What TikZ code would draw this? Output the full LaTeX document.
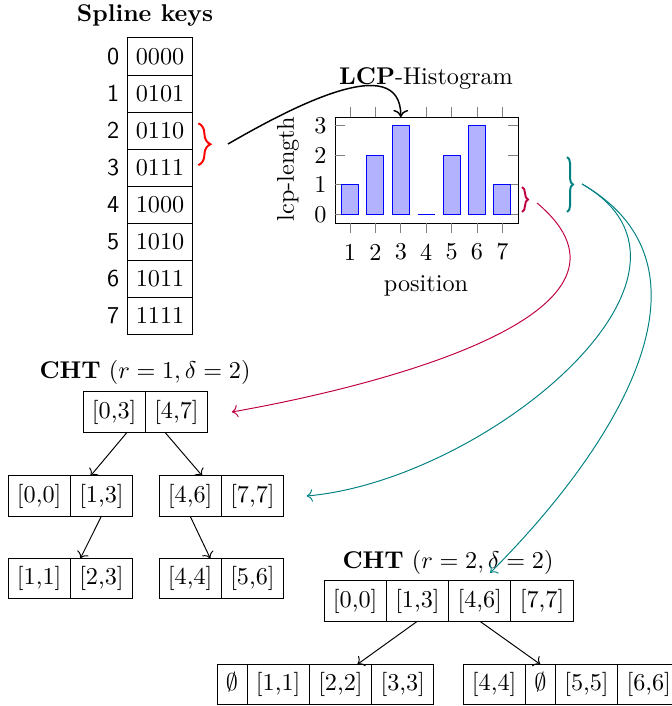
\documentclass[tikz,border=0pt]{standalone}
\usepackage{amsmath}
\usepackage{xcolor}
\usepackage{tikz}
\usetikzlibrary{positioning,arrows.meta,decorations.pathreplacing}

\begin{document}
\begin{tikzpicture}[
  x=0.4132pt, y=-0.4132pt,
  key/.style={draw, rectangle, outer sep=0pt, minimum width=26.7pt, minimum height=15.3pt},
  idx/.style={font=\sffamily},
  cell/.style={draw, rectangle, outer sep=0pt, inner xsep=3.7pt, text height=7.5pt, text depth=2.5pt},
  bar/.style={draw=blue, fill=blue!30},
  axtick/.style={draw=gray},
  brc/.style={decorate, decoration={brace, amplitude=#1}, thick}
]
\useasboundingbox (0,0) rectangle (671,706);

% Spline keys
\node[font=\bfseries] (keytitle) at (145,15) {Spline keys};
\node[key, label={[idx]left:0}] (k0) at (160,56.5) {0000};
\node[key, below=0pt of k0, label={[idx]left:1}] (k1) {0101};
\node[key, below=0pt of k1, label={[idx]left:2}] (k2) {0110};
\node[key, below=0pt of k2, label={[idx]left:3}] (k3) {0111};
\node[key, below=0pt of k3, label={[idx]left:4}] (k4) {1000};
\node[key, below=0pt of k4, label={[idx]left:5}] (k5) {1010};
\node[key, below=0pt of k5, label={[idx]left:6}] (k6) {1011};
\node[key, below=0pt of k6, label={[idx]left:7}] (k7) {1111};
\draw[red, brc=5pt] ([xshift=2.5pt,yshift=3pt]k2.east) -- ([xshift=2.5pt,yshift=1pt]k3.east);
\coordinate (rb) at (228,144);

% LCP histogram
\node (htitle) at (426,79) {\textbf{LCP}-Histogram};
\draw (335,117) rectangle (518,223);
\draw[axtick] (350,106.7) -- (350,117) (375.4,106.7) -- (375.4,117) (400.8,106.7) -- (400.8,117)
  (426.2,106.7) -- (426.2,117) (451.6,106.7) -- (451.6,117) (477,106.7) -- (477,117) (502.4,106.7) -- (502.4,117);
\draw[axtick] (350,223) -- (350,233.3) (375.4,223) -- (375.4,233.3) (400.8,223) -- (400.8,233.3)
  (426.2,223) -- (426.2,233.3) (451.6,223) -- (451.6,233.3) (477,223) -- (477,233.3) (502.4,223) -- (502.4,233.3);
\draw[axtick] (335,214.3) -- (345.3,214.3) (335,184.8) -- (345.3,184.8) (335,155.3) -- (345.3,155.3) (335,125.8) -- (345.3,125.8);
\draw[axtick] (518,214.3) -- (507.7,214.3) (518,184.8) -- (507.7,184.8) (518,155.3) -- (507.7,155.3) (518,125.8) -- (507.7,125.8);
\draw[bar] (341.5,214.3) rectangle (358.5,184.8);
\draw[bar] (366.9,214.3) rectangle (383.9,155.3);
\draw[bar] (392.3,214.3) rectangle (409.3,125.8);
\draw[bar] (417.7,214.3) -- (434.7,214.3);
\draw[bar] (443.1,214.3) rectangle (460.1,155.3);
\draw[bar] (468.5,214.3) rectangle (485.5,125.8);
\draw[bar] (493.9,214.3) rectangle (510.9,184.8);
\node[anchor=east] (y0) at (335,214.3) {0};
\node[anchor=east] (y1) at (335,184.8) {1};
\node[anchor=east] (y2) at (335,155.3) {2};
\node[anchor=east] (y3) at (335,125.8) {3};
\node (x1) at (350,252) {1};
\node (x2) at (375.4,252) {2};
\node (x3) at (400.8,252) {3};
\node (x4) at (426.2,252) {4};
\node (x5) at (451.6,252) {5};
\node (x6) at (477,252) {6};
\node (x7) at (502.4,252) {7};
\node (xlab) at (426,286) {position};
\node[rotate=90] (ylab) at (288,169) {lcp-length};
\coordinate (top3) at (400.8,117);
\draw[purple, brc=2.5pt] (522,187) -- (522,212);
\coordinate (pb) at (537,203);
\draw[teal, brc=2.5pt] (567,157) -- (567,212);
\coordinate (tb) at (582,184);

\draw[->, semithick] (rb) to[out=30, in=90] (top3);

% CHT r=1
\node (cht1) at (145,372) {\textbf{CHT} $(r = 1, \delta = 2)$};
\node[cell, anchor=west] (a03) at (83,412) {[0,3]};
\node[cell, right=0pt of a03] (a47) {[4,7]};
\node[cell, anchor=west] (b00) at (8,496) {[0,0]};
\node[cell, right=0pt of b00] (b13) {[1,3]};
\node[cell, anchor=west] (c46) at (159,496) {[4,6]};
\node[cell, right=0pt of c46] (c77) {[7,7]};
\node[cell, anchor=west] (d11) at (8,578.5) {[1,1]};
\node[cell, right=0pt of d11] (d23) {[2,3]};
\node[cell, anchor=west] (e44) at (159,578.5) {[4,4]};
\node[cell, right=0pt of e44] (e56) {[5,6]};

\draw[->] ([xshift=5.4pt]a03.south) -- ([xshift=-4.5pt]b13.north);
\draw[->] ([xshift=-4.8pt]a47.south) -- ([xshift=5pt]c46.north);
\draw[->] (b13.south) -- ([xshift=-8.7pt]d23.north);
\draw[->] (c46.south) -- ([xshift=8.3pt]e44.north);

% CHT r=2
\node (cht2) at (448,562) {\textbf{CHT} $(r = 2, \delta = 2)$};
\node[cell, anchor=west] (r00) at (324,601) {[0,0]};
\node[cell, right=0pt of r00] (r13) {[1,3]};
\node[cell, right=0pt of r13] (r46) {[4,6]};
\node[cell, right=0pt of r46] (r77) {[7,7]};
\node[cell, anchor=west] (s0) at (217,684.5) {$\emptyset$};
\node[cell, right=0pt of s0] (s11) {[1,1]};
\node[cell, right=0pt of s11] (s22) {[2,2]};
\node[cell, right=0pt of s22] (s33) {[3,3]};
\node[cell, anchor=west] (t44) at (463,684.5) {[4,4]};
\node[cell, right=0pt of t44] (t0) {$\emptyset$};
\node[cell, right=0pt of t0] (t55) {[5,5]};
\node[cell, right=0pt of t55] (t66) {[6,6]};

\draw[->] (r13.south) -- ([xshift=7pt]s22.north);
\draw[->] (r46.south) -- (t0.north);

% from the histogram to the trees
\draw[purple, ->] (pb) to[out=-40, in=10, looseness=1.15] ([xshift=10pt]a47.east);
\draw[teal, ->] (tb) to[out=-30, in=5, looseness=1.1] ([xshift=9.5pt]c77.east);
\draw[teal, ->] (tb) to[out=-30, in=45, looseness=1.1] ([xshift=4.3pt,yshift=3.3pt]r46.north);

\end{tikzpicture}
\end{document}
